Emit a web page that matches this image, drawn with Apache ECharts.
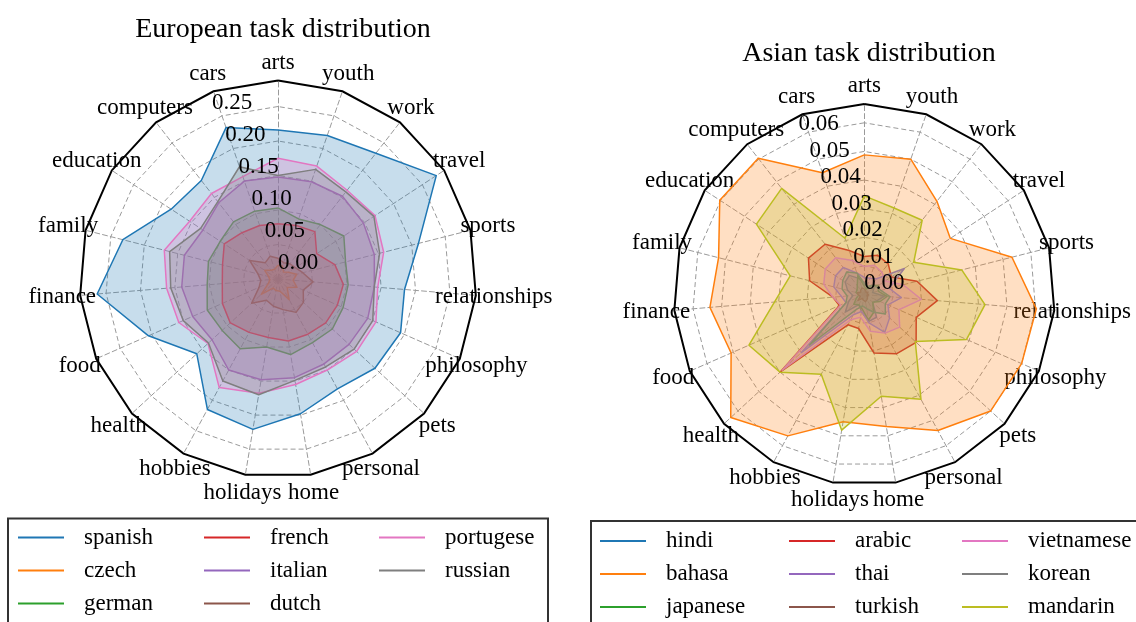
<!DOCTYPE html>
<html><head><meta charset="utf-8">
<script src="https://cdn.jsdelivr.net/npm/echarts@6/dist/echarts.min.js"></script>
<style>html,body{margin:0;padding:0;background:#fff}#c{width:1136px;height:622px}</style>
</head><body><div id="c"></div>
<script>
// ---------- data ----------
const categories = ['arts','cars','computers','education','family','finance','food','health','hobbies','holidays','home','personal','pets','philosophy','relationships','sports','travel','work','youth'];

const europeNames = ['spanish','czech','german','french','italian','dutch','portugese','russian'];
const spanish   = [0.216,0.232,0.181,0.185,0.232,0.263,0.205,0.160,0.215,0.221,0.198,0.181,0.191,0.194,0.184,0.210,0.274,0.231,0.220];
const czech     = [0.020,0.015,0.016,0.023,0.014,0.012,0.015,0.033,0.015,0.017,0.018,0.034,0.018,0.030,0.022,0.028,0.018,0.013,0.020];
const german    = [0.103,0.104,0.105,0.100,0.104,0.103,0.112,0.110,0.115,0.100,0.111,0.105,0.107,0.103,0.102,0.101,0.114,0.100,0.092];
const french    = [0.080,0.082,0.085,0.093,0.083,0.081,0.088,0.094,0.088,0.086,0.091,0.091,0.094,0.094,0.095,0.085,0.067,0.087,0.082];
const italian   = [0.148,0.150,0.140,0.130,0.140,0.140,0.135,0.130,0.150,0.148,0.145,0.140,0.140,0.142,0.140,0.144,0.148,0.152,0.149];
const dutch     = [0.030,0.035,0.030,0.049,0.030,0.025,0.030,0.052,0.035,0.040,0.045,0.055,0.050,0.040,0.051,0.037,0.030,0.028,0.025];
const portugese = [0.175,0.157,0.157,0.153,0.170,0.162,0.157,0.138,0.179,0.168,0.155,0.150,0.155,0.155,0.145,0.158,0.168,0.163,0.173];
const russian   = [0.150,0.172,0.142,0.134,0.162,0.156,0.150,0.137,0.168,0.170,0.149,0.145,0.150,0.150,0.140,0.152,0.166,0.160,0.168];
const europeValues = [spanish, czech, german, french, italian, dutch, portugese, russian];

const asiaNames = ['hindi','bahasa','japanese','arabic','thai','turkish','vietnamese','korean','mandarin'];
const hindi      = [0.0040,0.0060,0.0085,0.0080,0.0060,0.0040,0.0060,0.0090,0.0040,0.0060,0.0095,0.0090,0.0040,0.0050,0.0070,0.0030,0.0040,0.0030,0.0030];
const bahasa     = [0.0488,0.0450,0.0603,0.0603,0.0525,0.0541,0.0508,0.0634,0.0561,0.0450,0.0467,0.0540,0.0600,0.0600,0.0603,0.0532,0.0359,0.0413,0.0500];
const japanese   = [0.0030,0.0070,0.0040,0.0030,0.0030,0.0020,0.0030,0.0050,0.0040,0.0050,0.0090,0.0070,0.0040,0.0060,0.0080,0.0050,0.0060,0.0040,0.0020];
const arabic     = [0.0133,0.0163,0.0223,0.0233,0.0197,0.0110,0.0095,0.0400,0.0120,0.0120,0.0207,0.0235,0.0246,0.0198,0.0256,0.0190,0.0113,0.0136,0.0145];
const thai       = [0.0060,0.0080,0.0120,0.0120,0.0110,0.0080,0.0070,0.0300,0.0080,0.0060,0.0100,0.0150,0.0120,0.0090,0.0130,0.0090,0.0167,0.0070,0.0060];
const turkish    = [0.0020,0.0025,0.0020,0.0015,0.0025,0.0020,0.0015,0.0030,0.0015,0.0020,0.0025,0.0020,0.0015,0.0010,0.0015,0.0010,0.0015,0.0010,0.0015];
const vietnamese = [0.0098,0.0126,0.0163,0.0163,0.0146,0.0110,0.0090,0.0390,0.0100,0.0080,0.0130,0.0153,0.0168,0.0132,0.0200,0.0140,0.0087,0.0100,0.0108];
const korean     = [0.0040,0.0080,0.0100,0.0090,0.0080,0.0060,0.0070,0.0260,0.0060,0.0040,0.0050,0.0070,0.0100,0.0080,0.0090,0.0060,0.0050,0.0040,0.0030];
const mandarin   = [0.0345,0.0208,0.0470,0.0450,0.0267,0.0315,0.0440,0.0400,0.0316,0.0480,0.0360,0.0416,0.0242,0.0390,0.0423,0.0351,0.0206,0.0329,0.0320];
const asiaValues = [hindi, bahasa, japanese, arabic, thai, turkish, vietnamese, korean, mandarin];

const europeTickStep = 0.05, europeTickTop = 0.25;
const asiaTickStep = 0.01, asiaTickTop = 0.06;

const colors = ['#1f77b4','#ff7f0e','#2ca02c','#d62728','#9467bd','#8c564b','#e377c2','#7f7f7f','#bcbd22','#17becf'];

// ---------- layout ----------
const FONT = 'Liberation Serif';
const E = {cx: 278, cy: 279, R: 198.5};
const A = {cx: 864.3, cy: 294.6, R: 190.6};
const eMax = Math.max(...europeValues.flat()) * 1.05;
const aMax = Math.max(...asiaValues.flat()) * 1.05;

function frameRadar(L, max) {
  return {
    center: [L.cx, L.cy], radius: L.R, startAngle: 90, shape: 'polygon', splitNumber: 1,
    indicator: categories.map(c => ({name: c, min: 0, max: max})),
    nameGap: 18,
    axisName: {color: '#000', fontSize: 23, fontFamily: FONT, align: 'center', verticalAlign: 'middle'},
    axisLine: {show: true, lineStyle: {color: '#9a9a9a', width: 1, type: [5, 3]}},
    splitLine: {show: true, lineStyle: {color: '#000', width: 2}},
    splitArea: {show: false}, axisTick: {show: false}, axisLabel: {show: false}
  };
}
function ringRadar(L, max, top, step) {
  return {
    center: [L.cx, L.cy], radius: L.R * top / max, startAngle: 90, shape: 'polygon',
    splitNumber: Math.round(top / step),
    indicator: categories.map(() => ({name: '', min: 0, max: top})),
    axisName: {show: false},
    axisLine: {show: false},
    splitLine: {show: true, lineStyle: {color: '#9a9a9a', width: 1, type: [5, 3]}},
    splitArea: {show: false}, axisTick: {show: false}, axisLabel: {show: false}
  };
}

const series = [];
europeNames.forEach((n, i) => series.push({
  type: 'radar', radarIndex: 0, name: n, symbol: 'none', silent: true,
  lineStyle: {color: colors[i], width: 1.5}, itemStyle: {color: colors[i]},
  areaStyle: {color: colors[i], opacity: 0.25},
  data: [{name: n, value: europeValues[i]}]
}));
asiaNames.forEach((n, i) => series.push({
  type: 'radar', radarIndex: 2, name: n, symbol: 'none', silent: true,
  lineStyle: {color: colors[i], width: 1.5}, itemStyle: {color: colors[i]},
  areaStyle: {color: colors[i], opacity: 0.25},
  data: [{name: n, value: asiaValues[i]}]
}));

function legend(names, left, top) {
  return {
    orient: 'vertical', left: left, top: top, padding: 0, itemGap: 10,
    itemWidth: 46, itemHeight: 2, icon: 'rect', selectedMode: false, data: names,
    textStyle: {fontSize: 23, fontFamily: FONT, color: '#000', lineHeight: 23, padding: [0, 0, 0, 15]}
  };
}
function tickAxis(idx, top, step, digits, padBottom) {
  return {
    polarIndex: idx, type: 'value', min: 0, max: top, interval: step, z: 10,
    axisLine: {show: false}, axisTick: {show: false}, splitLine: {show: false}, splitArea: {show: false},
    axisLabel: {formatter: v => v.toFixed(digits), color: '#000', fontSize: 23, fontFamily: FONT,
      margin: 0, align: 'left', verticalAlign: 'bottom', padding: [0, 0, padBottom, 0]}
  };
}

const option = {
  animation: false,
  textStyle: {fontFamily: FONT},
  title: [
    {text: 'European task distribution', left: 278, top: 11, textAlign: 'center',
     textStyle: {fontSize: 28, fontWeight: 'normal', fontFamily: FONT, color: '#000'}},
    {text: 'Asian task distribution', left: 864, top: 35, textAlign: 'center',
     textStyle: {fontSize: 28, fontWeight: 'normal', fontFamily: FONT, color: '#000'}}
  ],
  radar: [frameRadar(E, eMax), ringRadar(E, eMax, europeTickTop, europeTickStep),
          frameRadar(A, aMax), ringRadar(A, aMax, asiaTickTop, asiaTickStep)],
  polar: [{center: [E.cx, E.cy], radius: E.R * europeTickTop / eMax},
          {center: [A.cx, A.cy], radius: A.R * asiaTickTop / aMax}],
  angleAxis: [{polarIndex: 0, type: 'value', min: 0, max: 360, startAngle: 112.5, show: false},
              {polarIndex: 1, type: 'value', min: 0, max: 360, startAngle: 112.5, show: false}],
  radiusAxis: [tickAxis(0, europeTickTop, europeTickStep, 2, 5), tickAxis(1, asiaTickTop, asiaTickStep, 2, 0)],
  legend: [
    legend(['spanish','czech','german'], 18, 526),
    legend(['french','italian','dutch'], 204, 526),
    legend(['portugese','russian'], 379, 526),
    legend(['hindi','bahasa','japanese'], 600, 529.5),
    legend(['arabic','thai','turkish'], 789, 529.5),
    legend(['vietnamese','korean','mandarin'], 962, 529.5)
  ],
  graphic: [
    {type: 'rect', shape: {x: 8, y: 518.5, width: 540, height: 160}, style: {fill: 'rgba(0,0,0,0)', stroke: '#333', lineWidth: 2}},
    {type: 'rect', shape: {x: 591, y: 521, width: 600, height: 160}, style: {fill: 'rgba(0,0,0,0)', stroke: '#333', lineWidth: 2}}
  ],
  series: series
};
const chart = echarts.init(document.getElementById('c'), null, {renderer: 'canvas'});
chart.setOption(option);
</script>
</body></html>
